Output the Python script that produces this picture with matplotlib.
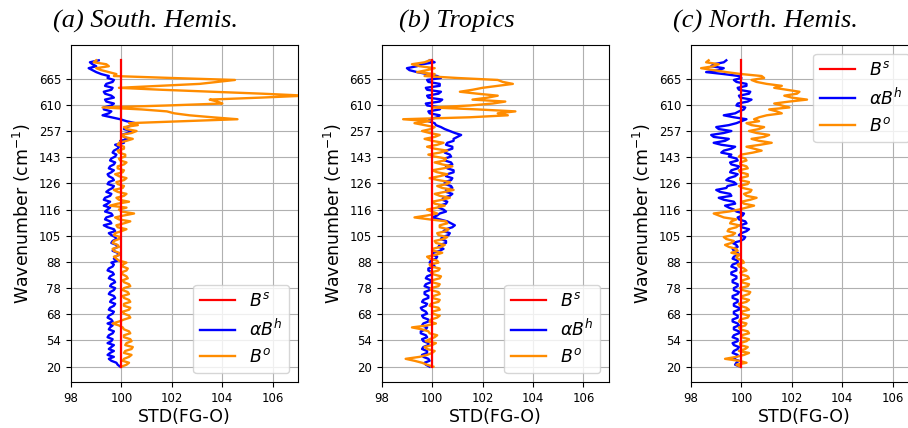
import matplotlib as mpl
import matplotlib.pyplot as plt
import numpy as np

# ── DATA ─────────────────────────────────────────────────────────────────────

# values are read every 1.5 channels; y ticks are labelled with wavenumbers
CH_STEP = 1.5
CH_MAX = 234
TICK_POS = [0, 20, 40, 60, 80, 100, 120, 140, 160, 180, 200, 220]
TICK_LABELS = ["20", "54", "68", "78", "88", "105", "116", "126", "143", "257", "610", "665"]

PANEL_TITLES = ["(a) South. Hemis.", "(b) Tropics", "(c) North. Hemis."]
SERIES_LABELS = ["$B^s$", r"$\alpha B^h$", "$B^o$"]
BS_VALUE = 100.0

# alpha * B^h, South. Hemis.
SH_BH = [99.95, 99.85, 99.8, 99.6, 99.5, 99.7, 99.45, 99.55, 99.7, 99.5,
         99.6, 99.7, 99.45, 99.6, 99.65, 99.45, 99.5, 99.65, 99.7, 99.5,
         99.55, 99.65, 99.45, 99.65, 99.6, 99.45, 99.5, 99.65, 99.7, 99.5,
         99.55, 99.7, 99.75, 99.55, 99.6, 99.75, 99.7, 99.5, 99.55, 99.7,
         99.75, 99.55, 99.6, 99.75, 99.7, 99.5, 99.55, 99.7, 99.65, 99.45,
         99.5, 99.65, 99.7, 99.6, 99.85, 99.7, 99.75, 99.9, 99.85, 99.65,
         99.7, 99.85, 99.8, 99.6, 99.65, 99.8, 99.75, 99.6, 99.5, 99.75,
         99.7, 99.45, 99.3, 99.6, 99.55, 99.35, 99.4, 99.65, 99.6, 99.35,
         99.45, 99.55, 99.3, 99.45, 99.55, 99.3, 99.35, 99.55, 99.6, 99.4,
         99.5, 99.65, 99.7, 99.45, 99.5, 99.7, 99.65, 99.5, 99.45, 99.6,
         99.7, 99.5, 99.55, 99.7, 99.75, 99.55, 99.6, 99.75, 99.8, 99.65,
         99.7, 99.85, 99.9, 99.75, 100.1, 99.95, 100.3, 100.1, 100.0, 100.25,
         100.4, 100.1, 100.2, 100.45, 100.55, 100.2, 99.95, 99.6, 99.25, 99.5,
         99.6, 99.3, 99.3, 99.6, 99.7, 99.4, 99.35, 99.7, 99.6, 99.35,
         99.3, 99.6, 99.65, 99.35, 99.4, 99.65, 99.7, 99.45, 99.5, 99.2,
         99.0, 98.85, 98.7, 99.0, 98.85, 98.75, 99.1]
# B^o, South. Hemis.
SH_BO = [100.0, 100.2, 100.3, 100.05, 100.1, 100.3, 100.4, 100.1, 100.15, 100.4,
         100.45, 100.15, 100.2, 100.4, 100.35, 100.1, 100.1, 100.35, 100.3, 100.1,
         100.05, 99.9, 99.65, 99.9, 100.1, 100.35, 100.3, 100.1, 100.05, 100.3,
         100.35, 100.1, 100.1, 100.35, 100.3, 100.1, 100.05, 100.3, 100.25, 100.05,
         100.1, 100.35, 100.3, 100.1, 100.05, 100.25, 100.2, 100.05, 100.0, 100.2,
         100.25, 100.05, 100.05, 100.2, 99.9, 99.8, 99.7, 99.95, 99.9, 99.7,
         99.65, 99.9, 99.85, 99.65, 99.7, 99.9, 99.95, 99.7, 99.75, 100.0,
         100.2, 99.85, 99.8, 100.1, 100.35, 99.9, 99.75, 100.1, 100.5, 100.0,
         99.9, 100.2, 99.55, 99.85, 100.3, 99.9, 99.8, 100.1, 100.2, 99.85,
         99.7, 100.05, 100.1, 99.85, 99.8, 100.1, 100.2, 99.9, 99.75, 100.05,
         100.1, 99.85, 99.85, 100.1, 100.2, 99.95, 99.9, 100.15, 100.15, 99.9,
         99.85, 100.1, 100.1, 99.85, 99.9, 100.2, 100.45, 100.1, 100.0, 100.4,
         100.6, 100.2, 100.1, 100.65, 100.3, 102.5, 104.6, 103.6, 102.7, 102.1,
         101.8, 100.8, 99.25, 101.8, 104.0, 103.8, 103.5, 105.5, 107.3, 105.6,
         103.6, 101.6, 99.9, 101.5, 103.1, 103.8, 104.5, 102.0, 99.7, 99.8,
         99.5, 99.2, 99.0, 99.5, 99.4, 98.9, 99.0]

# alpha * B^h, Tropics
TR_BH = [99.9, 99.75, 99.7, 99.9, 99.85, 99.65, 99.6, 99.8, 99.8, 99.6,
         99.65, 99.85, 99.85, 99.65, 99.6, 99.8, 99.75, 99.55, 99.55, 99.75,
         99.8, 99.6, 99.65, 99.85, 99.85, 99.65, 99.6, 99.8, 99.75, 99.6,
         99.55, 99.75, 99.8, 99.6, 99.65, 99.85, 99.85, 99.7, 99.7, 99.9,
         99.9, 99.7, 99.75, 99.95, 99.95, 99.75, 99.8, 100.0, 100.0, 99.85,
         99.85, 100.1, 100.05, 99.9, 99.95, 100.15, 100.2, 100.0, 100.05, 100.3,
         100.45, 100.25, 100.3, 100.55, 100.55, 100.35, 100.4, 100.65, 100.7, 100.45,
         100.55, 100.8, 100.9, 100.75, 100.6, 100.3, 100.0, 100.2, 100.3, 100.55,
         100.45, 100.25, 100.3, 100.55, 100.6, 100.4, 100.45, 100.7, 100.8, 100.55,
         100.55, 100.8, 100.75, 100.5, 100.5, 100.75, 100.8, 100.55, 100.6, 100.85,
         100.85, 100.6, 100.55, 100.8, 100.75, 100.5, 100.5, 100.75, 100.7, 100.5,
         100.55, 100.8, 100.8, 100.55, 100.6, 100.85, 100.85, 101.0, 101.15, 100.9,
         100.7, 100.5, 100.35, 100.15, 100.1, 99.85, 99.9, 100.2, 100.3, 99.9,
         99.85, 100.3, 100.35, 99.8, 99.75, 100.3, 100.4, 99.85, 99.8, 100.25,
         100.35, 99.8, 99.75, 100.3, 100.3, 99.85, 99.8, 100.35, 100.2, 99.8,
         99.4, 99.1, 99.0, 99.4, 99.6, 100.1, 99.9]
# B^o, Tropics
TR_BO = [100.05, 99.8, 99.6, 99.3, 98.95, 99.5, 99.8, 100.0, 100.1, 99.8,
         99.7, 100.0, 100.15, 99.75, 99.9, 100.1, 100.2, 99.9, 99.85, 99.6,
         99.2, 99.8, 100.15, 99.9, 99.95, 100.2, 100.3, 100.0, 100.0, 100.3,
         100.25, 99.9, 99.95, 100.25, 100.3, 100.0, 100.05, 100.3, 100.25, 99.95,
         99.95, 100.25, 100.3, 100.0, 100.0, 100.3, 100.35, 100.05, 99.95, 100.25,
         100.3, 99.95, 99.9, 100.25, 100.2, 99.9, 99.8, 100.15, 100.4, 100.05,
         100.0, 100.35, 100.5, 100.15, 100.1, 100.45, 100.6, 100.25, 100.2, 100.55,
         100.65, 100.3, 100.3, 100.6, 100.55, 99.9, 99.3, 99.8, 100.2, 100.0,
         99.8, 100.2, 100.5, 100.1, 100.0, 100.4, 100.7, 100.3, 100.1, 100.5,
         100.85, 100.4, 100.2, 100.6, 100.7, 100.25, 99.9, 100.3, 100.6, 100.2,
         100.0, 100.45, 100.8, 100.4, 100.1, 100.5, 100.55, 100.1, 99.85, 100.3,
         100.6, 100.1, 99.8, 100.2, 100.45, 100.0, 99.7, 100.1, 100.3, 99.9,
         99.6, 99.95, 100.1, 99.7, 99.3, 99.9, 98.85, 101.5, 103.0, 102.6,
         103.3, 101.8, 100.0, 101.5, 102.4, 102.9, 101.6, 102.2, 102.6, 101.8,
         101.1, 101.6, 102.0, 102.6, 103.2, 102.8, 102.6, 101.0, 99.7, 100.1,
         99.4, 99.8, 100.1, 99.5, 99.2, 99.7, 99.9]

# alpha * B^h, North. Hemis.
NH_BH = [99.95, 99.75, 99.8, 99.9, 99.65, 99.8, 99.85, 99.65, 99.7, 99.85,
         99.9, 99.7, 99.65, 99.85, 99.85, 99.65, 99.7, 99.9, 99.9, 99.7,
         99.7, 99.9, 99.85, 99.65, 99.65, 99.85, 99.85, 99.7, 99.7, 99.9,
         99.9, 99.7, 99.7, 99.85, 99.85, 99.65, 99.65, 99.85, 99.9, 99.7,
         99.7, 99.85, 99.85, 99.65, 99.65, 99.8, 99.8, 99.6, 99.6, 99.8,
         99.8, 99.6, 99.65, 99.85, 99.85, 99.65, 99.7, 99.9, 99.85, 99.7,
         99.65, 99.85, 99.8, 99.65, 99.95, 100.1, 100.15, 99.9, 100.0, 100.2,
         100.3, 100.0, 99.95, 100.2, 100.15, 99.9, 99.85, 100.05, 100.1, 99.8,
         99.7, 99.5, 99.35, 99.75, 99.7, 99.3, 99.1, 99.6, 99.55, 99.15,
         99.0, 99.4, 99.45, 99.8, 99.7, 99.4, 99.5, 99.75, 99.85, 99.55,
         99.6, 99.85, 99.9, 99.6, 99.55, 99.85, 99.8, 99.5, 99.6, 99.2,
         99.3, 99.6, 99.75, 99.2, 98.9, 99.35, 99.5, 98.9, 98.8, 99.3,
         99.6, 99.1, 99.0, 99.5, 99.8, 100.0, 100.2, 99.7, 99.3, 99.75,
         99.9, 100.1, 100.15, 99.8, 99.85, 100.25, 100.4, 99.95, 99.9, 100.3,
         100.35, 99.9, 99.85, 100.2, 100.2, 99.8, 99.7, 100.0, 99.9, 99.3,
         98.6, 99.1, 99.3, 98.8, 98.9, 99.3, 99.4]
# B^o, North. Hemis.
NH_BO = [99.95, 99.8, 100.2, 99.9, 99.35, 99.8, 100.1, 100.3, 99.9, 100.15,
         100.25, 99.95, 99.95, 100.2, 100.3, 100.0, 100.0, 100.3, 100.25, 99.95,
         99.9, 100.15, 100.2, 99.9, 99.95, 100.25, 100.3, 100.0, 100.0, 100.3,
         100.2, 99.95, 99.9, 100.2, 100.3, 100.0, 100.05, 100.3, 100.35, 100.05,
         99.95, 100.25, 100.3, 100.0, 100.05, 100.3, 100.25, 100.0, 99.95, 100.2,
         100.1, 99.9, 99.85, 100.1, 100.05, 99.85, 99.8, 99.95, 99.6, 99.85,
         99.8, 99.5, 99.35, 99.6, 99.7, 99.4, 99.3, 99.65, 99.75, 99.45,
         99.5, 99.8, 99.9, 99.55, 99.6, 99.8, 99.3, 99.1, 98.9, 99.5,
         99.9, 100.2, 100.5, 100.1, 100.0, 100.35, 100.6, 100.2, 100.1, 100.35,
         100.4, 100.05, 99.9, 100.25, 100.3, 99.95, 99.95, 100.25, 100.25, 99.95,
         99.9, 100.25, 100.2, 99.95, 99.95, 100.2, 100.15, 99.9, 100.0, 100.45,
         100.8, 100.5, 100.2, 100.75, 101.2, 100.7, 100.4, 100.9, 101.1, 100.6,
         100.3, 100.7, 100.9, 100.4, 100.2, 100.7, 100.5, 100.7, 101.0, 101.6,
         101.4, 101.1, 101.9, 101.6, 101.3, 101.9, 102.6, 102.0, 101.7, 102.2,
         102.3, 101.8, 101.3, 101.6, 101.0, 100.6, 100.4, 100.9, 100.8, 100.0,
         99.4, 98.9, 98.4, 98.9, 99.1, 98.6, 98.7]

BH_DATA = [SH_BH, TR_BH, NH_BH]
BO_DATA = [SH_BO, TR_BO, NH_BO]

# ── APPEARANCE ───────────────────────────────────────────────────────────────

COL_BS = "red"
COL_BH = "blue"
COL_BO = "darkorange"
LEGEND_LOCS = ["lower right", "lower right", "upper right"]

W, H = 908, 428
AX_LEFTS = [71, 381.7, 691]   # pixels; third panel runs past the right edge
AX_W = 227
AX_TOP, AX_BOT = 45, 382

fig = plt.figure(figsize=(W / 100, H / 100), dpi=100)

for i in range(3):
    ax = fig.add_axes([AX_LEFTS[i] / W, (H - AX_BOT) / H, AX_W / W, (AX_BOT - AX_TOP) / H])
    bh = np.asarray(BH_DATA[i])
    bo = np.asarray(BO_DATA[i])
    ch_bh = np.arange(len(bh)) * CH_STEP
    ch_bo = np.arange(len(bo)) * CH_STEP

    ax.plot([BS_VALUE, BS_VALUE], [0, CH_MAX], color=COL_BS, lw=1.6,
            label=SERIES_LABELS[0], zorder=4)
    ax.plot(bh, ch_bh, color=COL_BH, lw=1.7, label=SERIES_LABELS[1], zorder=2)
    ax.plot(bo, ch_bo, color=COL_BO, lw=1.7, label=SERIES_LABELS[2], zorder=3)

    ax.set_xlim(98, 107)
    ax.set_xticks([98, 100, 102, 104, 106])
    ax.set_ylim(-11.7, 245.7)
    ax.set_yticks(TICK_POS)
    ax.set_yticklabels(TICK_LABELS)
    ax.tick_params(labelsize=8.5)
    ax.grid(True, color="#b0b0b0", linewidth=0.8)
    ax.set_axisbelow(True)

    ax.set_xlabel("STD(FG-O)", fontsize=12.5, labelpad=2)
    ax.set_ylabel("Wavenumber (cm$^{-1}$)", fontsize=12.5, labelpad=4)

    ax.text(0.33, 1.053, PANEL_TITLES[i], transform=ax.transAxes,
            ha="center", va="baseline", fontsize=19,
            family="Liberation Serif", style="italic")

    ax.legend(loc=LEGEND_LOCS[i], fontsize=12.5, handlelength=2.0)

fig.savefig("out.png", dpi=100)
